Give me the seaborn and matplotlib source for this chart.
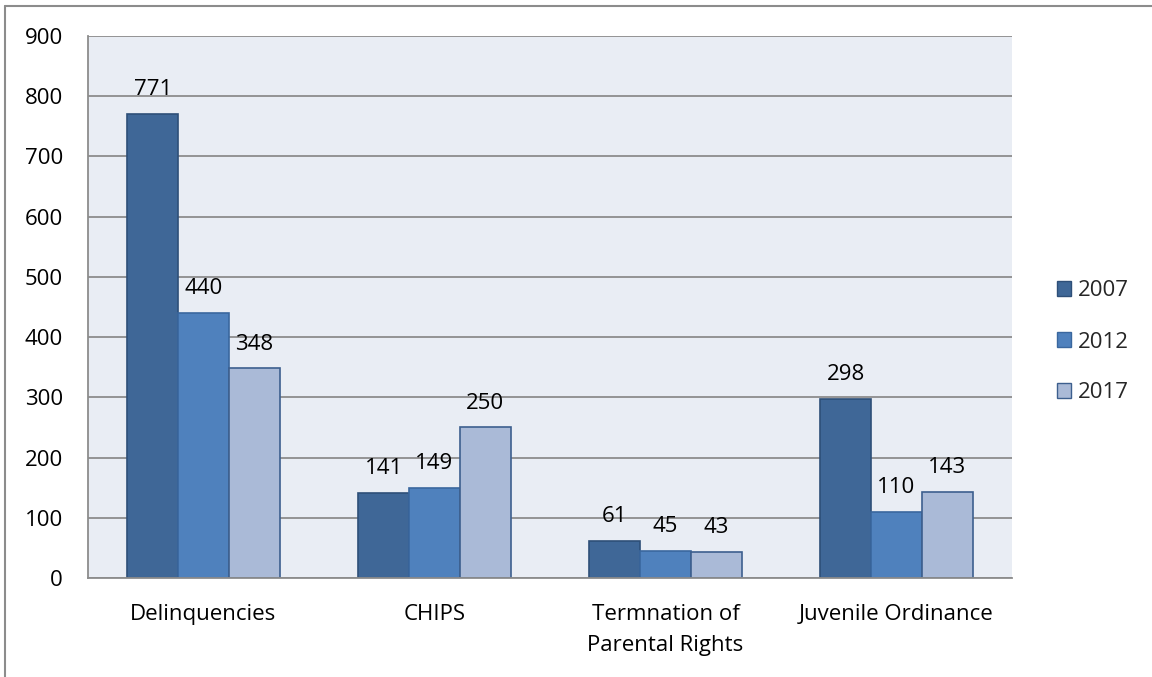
import matplotlib
matplotlib.use("Agg")
import matplotlib.pyplot as plt
from matplotlib.patches import Patch
from matplotlib.lines import Line2D
import seaborn as sns
import pandas as pd

categories = ["Delinquencies", "CHIPS", "Termnation of\nParental Rights", "Juvenile Ordinance"]
years = ["2007", "2012", "2017"]
values_2007 = [771, 141, 61, 298]
values_2012 = [440, 149, 45, 110]
values_2017 = [348, 250, 43, 143]
y_ticks = [0, 100, 200, 300, 400, 500, 600, 700, 800, 900]

fill_colors = ["#3F6797", "#4F81BD", "#AABAD7"]
edge_colors = ["#2E4F78", "#3A679E", "#3D5F8E"]

rows = []
for yr, vals in zip(years, [values_2007, values_2012, values_2017]):
    for cat, v in zip(categories, vals):
        rows.append({"category": cat, "year": yr, "value": v})
df = pd.DataFrame(rows)

sns.set_theme(style="white")
plt.rcParams["font.family"] = ["Open Sans", "DejaVu Sans"]
FS = 16

W, H = 1152, 677
fig = plt.figure(figsize=(W / 100, H / 100), dpi=100)
ax = fig.add_axes([88 / W, 1 - 578 / H, (1012 - 88) / W, (578 - 36) / H])
ax.set_facecolor("#E9EDF4")

sns.barplot(data=df, x="category", y="value", hue="year", order=categories,
            hue_order=years, palette=fill_colors, width=0.66, gap=0,
            linewidth=1.2, saturation=1, legend=False, ax=ax)

# per-series edge colours
n = len(categories)
for i, patch in enumerate(ax.patches):
    patch.set_edgecolor(edge_colors[i // n])

# value labels above each bar
for container in ax.containers:
    ax.bar_label(container, labels=[f"{int(v)}" for v in container.datavalues],
                 padding=10, fontsize=FS, color="#000000")

ax.set_ylim(0, 900)
ax.set_xlim(-0.5, len(categories) - 0.5)
ax.set_yticks(y_ticks)
ax.set_yticklabels([str(t) for t in y_ticks], fontsize=FS, color="#000000")
ax.set_xticks(range(n))
ax.set_xticklabels(categories, fontsize=FS, color="#000000", linespacing=1.6)
ax.set_xticks([i - 0.5 for i in range(n + 1)], minor=True)
ax.tick_params(axis="x", which="major", length=0, pad=19)
ax.tick_params(axis="x", which="minor", length=7, width=1.3, color="#8C8C8C", direction="out")
ax.tick_params(axis="y", length=7, width=1.3, color="#8C8C8C", direction="out", pad=11)
ax.set_xlabel("")
ax.set_ylabel("")

ax.yaxis.grid(True, color="#8C8C8C", linewidth=1.3)
ax.set_axisbelow(True)
for side in ["top", "right"]:
    ax.spines[side].set_visible(False)
for side in ["left", "bottom"]:
    ax.spines[side].set_color("#8C8C8C")
    ax.spines[side].set_linewidth(1.3)

# legend
handles = [Patch(facecolor=c, edgecolor=e, linewidth=1.0, label=y)
           for c, e, y in zip(fill_colors, edge_colors, years)]
fig.legend(handles=handles, loc="center left", bbox_to_anchor=(1048 / W, 1 - 342 / H),
           frameon=False, fontsize=FS, handlelength=0.65, handleheight=0.65,
           handletextpad=0.3, labelspacing=1.35, borderaxespad=0)

# outer chart frame (top and left edges)
fig.add_artist(Line2D([5 / W, 1], [1 - 6 / H, 1 - 6 / H], color="#8C8C8C",
                      linewidth=1.5, transform=fig.transFigure))
fig.add_artist(Line2D([5 / W, 5 / W], [0, 1 - 6 / H], color="#8C8C8C",
                      linewidth=1.5, transform=fig.transFigure))

fig.savefig("out.png", dpi=100, facecolor="white")
